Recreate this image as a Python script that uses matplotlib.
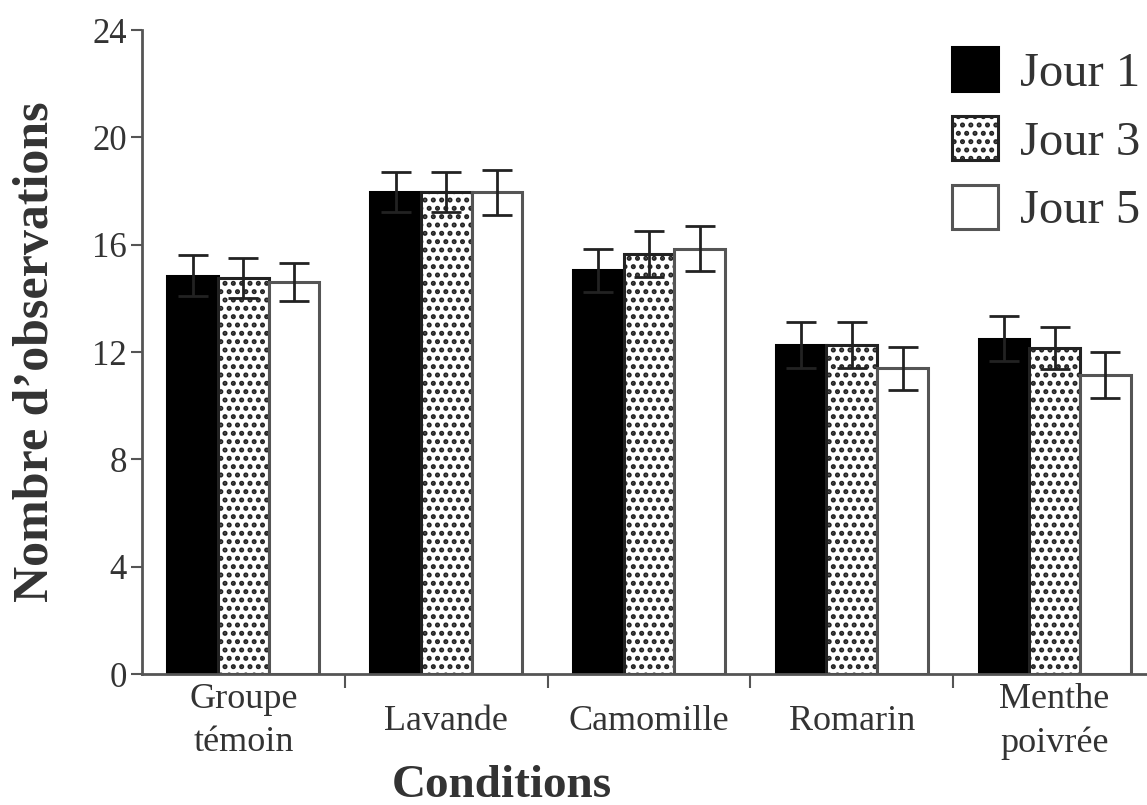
import numpy as np
import matplotlib
matplotlib.use("Agg")
import matplotlib.pyplot as plt

plt.rcParams['font.family'] = ['Liberation Serif', 'DejaVu Serif']
plt.rcParams['hatch.linewidth'] = 2.4

# donnees
conditions = ["Groupe\ntémoin", "Lavande", "Camomille", "Romarin", "Menthe\npoivrée"]
jours = ["Jour 1", "Jour 3", "Jour 5"]
moy_j1 = [14.85, 17.95, 15.05, 12.25, 12.5]
moy_j3 = [14.75, 17.95, 15.65, 12.25, 12.15]
moy_j5 = [14.6, 17.95, 15.85, 11.4, 11.15]
err_j1 = [0.75, 0.75, 0.8, 0.85, 0.85]
err_j3 = [0.75, 0.75, 0.85, 0.85, 0.8]
err_j5 = [0.7, 0.85, 0.85, 0.8, 0.85]
yticks = [0, 4, 8, 12, 16, 20, 24]

gris_txt = "#333333"
gris_axe = "#555555"

fig = plt.figure(figsize=(11.47, 8.05), dpi=100)
ax = fig.add_axes([142 / 1147, 1 - 674 / 805, 1014 / 1147, 644 / 805])

x = np.arange(len(conditions))
largeur = 0.25
styles = [
    dict(color="black", edgecolor="black", hatch=None),
    dict(color="white", edgecolor="#222222", hatch=".."),
    dict(color="white", edgecolor=gris_axe, hatch=None),
]
series = [(moy_j1, err_j1), (moy_j3, err_j3), (moy_j5, err_j5)]

for i, (moy, err) in enumerate(series):
    st = styles[i]
    pos = x + (i - 1) * largeur
    ax.bar(pos, moy, width=largeur, facecolor=st["color"], edgecolor=st["edgecolor"],
           hatch=st["hatch"], linewidth=2.2, label=jours[i], zorder=2)
    ax.errorbar(pos, moy, yerr=err, fmt="none", ecolor="#222222", elinewidth=2,
                capsize=11, capthick=2, zorder=3)

ax.set_xlim(-0.5, 4.5)
ax.set_ylim(0, 24)
ax.set_yticks(yticks)
ax.set_yticklabels([str(t) for t in yticks], fontsize=25, color=gris_txt)
ax.set_xticks(x)
ax.set_xticklabels(conditions, fontsize=26, color=gris_txt, linespacing=1.4)
for lab in ax.get_xticklabels():
    lab.set_verticalalignment("center")
ax.set_xticks(np.arange(0.5, 4.5, 1), minor=True)
ax.tick_params(axis="x", which="major", length=0, pad=34)
ax.tick_params(axis="x", which="minor", length=10, width=1.5, color=gris_axe, direction="out")
ax.tick_params(axis="y", length=8, width=1.5, color=gris_axe, pad=3)

for s in ["top", "right"]:
    ax.spines[s].set_visible(False)
for s in ["left", "bottom"]:
    ax.spines[s].set_color(gris_axe)
    ax.spines[s].set_linewidth(2)

ax.set_ylabel("Nombre d\u2019observations", fontsize=36, fontweight="bold",
              color=gris_txt, labelpad=24)
ax.set_xlabel("Conditions", fontsize=34, fontweight="bold", color=gris_txt)
ax.xaxis.set_label_coords((502 - 142) / 1014, -(786 - 674) / 644)
ax.xaxis.label.set_verticalalignment("center")

leg = ax.legend(loc="upper right", bbox_to_anchor=(1160 / 1147, 1 - 28 / 805),
                bbox_transform=fig.transFigure, frameon=False, fontsize=35,
                handlelength=0.95, handleheight=1.0, labelspacing=0.42,
                handletextpad=0.45, borderaxespad=0, labelcolor=gris_txt)

fig.savefig("out.png", dpi=100)
